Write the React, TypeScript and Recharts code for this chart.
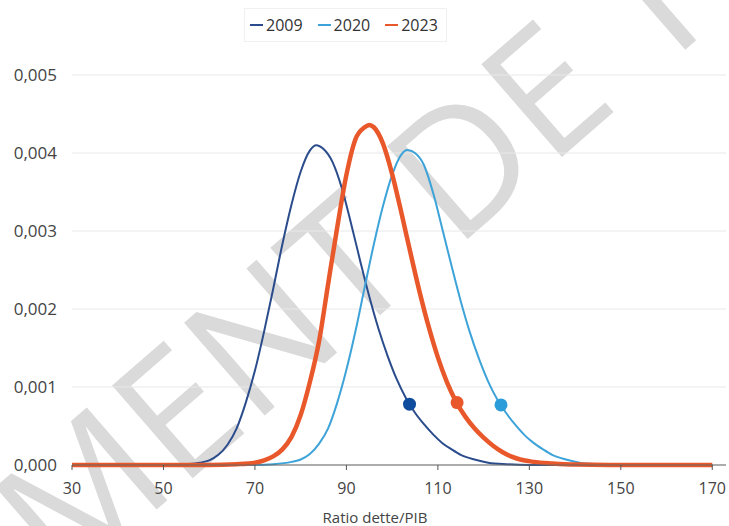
import React from 'react';
import { ComposedChart, Line, Scatter, XAxis, YAxis, CartesianGrid, Legend } from 'recharts';

const seriesNames = ['2009', '2020', '2023'];
const seriesColors = ['#2b4c8c', '#3da3d8', '#e9582b'];
const dotColors = ['#0f4c9e', '#2b9dd9', '#e9582b'];

const x2009 = [30, 52, 55, 58, 60, 62, 64, 66, 68, 70, 72, 74, 76, 78, 80, 82, 83.4, 85, 87, 89, 91, 93, 95, 97, 99, 101, 103, 105, 107, 109, 111, 113, 115, 118, 121, 125, 130, 170];
const y2009 = [0, 0, 0.00001, 0.00003, 0.00006, 0.00013, 0.00026, 0.00047, 0.0008, 0.00121, 0.00171, 0.00226, 0.00283, 0.00334, 0.00376, 0.00403, 0.0041, 0.00405, 0.00388, 0.00355, 0.0031, 0.00262, 0.00216, 0.00175, 0.0014, 0.0011, 0.00086, 0.00067, 0.00052, 0.00039, 0.00028, 0.0002, 0.00013, 0.00007, 0.00003, 0.00001, 0, 0];

const x2020 = [30, 70, 74, 78, 80, 82, 84, 86, 88, 90, 92, 94, 96, 98, 100, 102, 103.3, 105, 107, 109, 111, 113, 115, 117, 119, 121, 123, 125, 127, 129, 131, 133, 135, 138, 141, 145, 150, 170];
const y2020 = [0, 0, 0.00001, 0.00004, 0.00007, 0.00014, 0.00027, 0.00047, 0.0008, 0.00122, 0.00172, 0.00228, 0.00283, 0.00332, 0.00372, 0.00398, 0.00404, 0.004, 0.00384, 0.00348, 0.00302, 0.00255, 0.0021, 0.0017, 0.00136, 0.00107, 0.00084, 0.00066, 0.00051, 0.00038, 0.00028, 0.0002, 0.00013, 0.00007, 0.00003, 0.00001, 0, 0];

const x2023 = [30, 60, 66, 70, 72, 74, 76, 78, 80, 82, 84, 86, 88, 90, 92, 94, 95, 96, 98, 100, 102, 104, 106, 108, 110, 112, 114, 116, 118, 120, 122, 124, 126, 128, 131, 135, 140, 150, 170];
const y2023 = [0, 0, 0.00001, 0.00003, 0.00006, 0.00011, 0.0002, 0.00036, 0.00064, 0.00106, 0.00158, 0.00232, 0.00305, 0.00372, 0.00418, 0.00433, 0.00436, 0.00433, 0.00412, 0.00373, 0.00324, 0.00272, 0.00222, 0.00177, 0.00138, 0.00106, 0.00081, 0.00062, 0.00047, 0.00035, 0.00025, 0.00017, 0.00011, 0.00007, 0.00004, 0.00002, 0.000005, 0, 0];

const dotX = [103.8, 123.8, 114.2];
const dotY = [0.00078, 0.00077, 0.0008];

const xTicks = [30, 50, 70, 90, 110, 130, 150, 170];
const yTicks = [0, 0.001, 0.002, 0.003, 0.004, 0.005];
const xTitle = 'Ratio dette/PIB';
const watermarkLeft = 'DOCUMENT\u00A0';
const watermarkRight = 'DE TRAVAIL';

const FONT = '"Open Sans", "Noto Sans", sans-serif';

const toPoints = (xs: number[], ys: number[]) => xs.map((x, i) => ({ x, y: ys[i] }));
const seriesData = [toPoints(x2009, y2009), toPoints(x2020, y2020), toPoints(x2023, y2023)];
const widths = [2, 2, 4.5];

const LegendContent = () => (
  <div
    style={{
      display: 'inline-flex',
      alignItems: 'center',
      gap: 15,
      height: 34,
      boxSizing: 'border-box',
      padding: '0 8px 0 5px',
      border: '1px solid #f0f0f0',
      fontFamily: FONT,
      fontSize: 16,
      color: '#333',
    }}
  >
    {seriesNames.map((n, i) => (
      <span key={n} style={{ display: 'inline-flex', alignItems: 'center' }}>
        <span style={{ display: 'inline-block', width: 13, height: 2.5, background: seriesColors[i], marginRight: 3 }} />
        {n}
      </span>
    ))}
  </div>
);

const Watermark = () => {
  const px = 455;
  const py = 250;
  const common = {
    fontFamily: FONT,
    fontSize: 172,
    fill: '#dadada',
    transform: `rotate(-41 ${px} ${py})`,
  } as any;
  return (
    <svg width={729} height={526} style={{ position: 'absolute', left: 0, top: 0 }}>
      <text x={px} y={py} textAnchor="end" {...common}>{watermarkLeft}</text>
      <text x={px} y={py} textAnchor="start" {...common}>{watermarkRight}</text>
    </svg>
  );
};

export default function App() {
  return (
    <div style={{ position: 'absolute', left: 0, top: 0, width: 729, height: 526, background: '#fff', overflow: 'hidden' }}>
      <Watermark />
      <div style={{ position: 'absolute', left: 0, top: 0 }}>
        <ComposedChart width={729} height={526} margin={{ top: 41, right: 3, left: 0, bottom: 0 }}>
          <CartesianGrid vertical={false} stroke="#e8e8e8" />
          <XAxis
            dataKey="x"
            type="number"
            domain={[30, 173]}
            ticks={xTicks}
            allowDataOverflow
            height={61}
            tickSize={5}
            tickMargin={13}
            tick={{ fontSize: 16, fill: '#444', fontFamily: FONT }}
            axisLine={{ stroke: '#666' }}
            tickLine={{ stroke: '#555' }}
            label={{ value: xTitle, position: 'insideBottom', offset: 3, dx: -24, fontSize: 15, fill: '#444', fontFamily: FONT }}
          />
          <YAxis
            type="number"
            domain={[0, 0.005]}
            ticks={yTicks}
            width={72}
            axisLine={false}
            tickLine={false}
            tickSize={0}
            tickMargin={15}
            tick={{ fontSize: 17, fill: '#444', fontFamily: FONT }}
            tickFormatter={(v: number) => v.toFixed(3).replace('.', ',')}
          />
          <Legend verticalAlign="top" content={<LegendContent />} wrapperStyle={{ top: 8, left: 244, width: 'auto' }} />
          {seriesNames.map((n, i) => (
            <Line
              key={n}
              data={seriesData[i]}
              dataKey="y"
              name={n}
              type="monotone"
              stroke={seriesColors[i]}
              strokeWidth={widths[i]}
              dot={false}
              activeDot={false}
              isAnimationActive={false}
            />
          ))}
          {seriesNames.map((n, i) => (
            <Scatter
              key={'d' + n}
              data={[{ x: dotX[i], y: dotY[i] }]}
              dataKey="y"
              legendType="none"
              isAnimationActive={false}
              shape={(p: any) => <circle cx={p.cx} cy={p.cy} r={6.5} fill={dotColors[i]} />}
            />
          ))}
        </ComposedChart>
      </div>
    </div>
  );
}
